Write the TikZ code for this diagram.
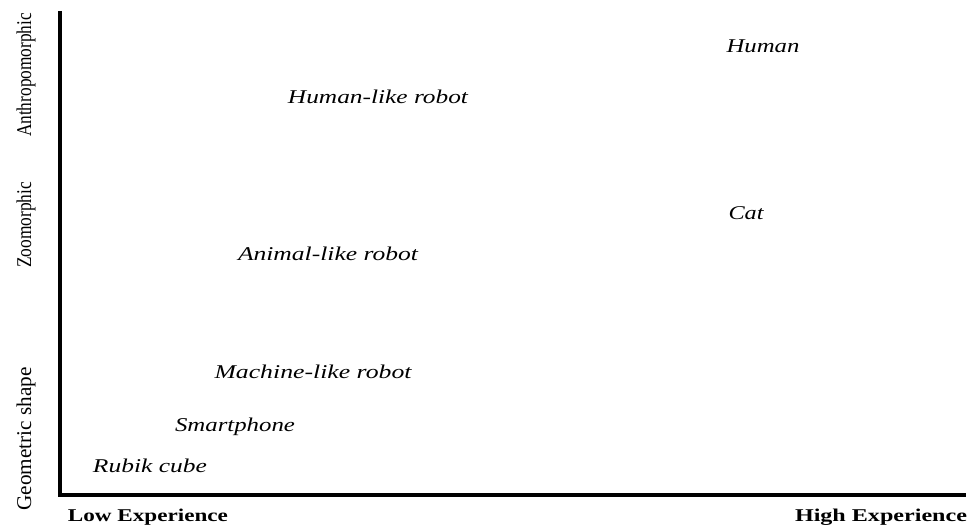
\documentclass[tikz,border=0pt]{standalone}
\usepackage{fontspec}
\setmainfont{Liberation Serif}
\usepackage{graphicx}
\tikzset{
  item/.style={inner sep=0pt, anchor=center, font=\fontsize{19.5}{19.5}\selectfont\itshape},
  axislabel/.style={inner sep=0pt, anchor=center, font=\fontsize{18}{18}\selectfont\bfseries},
  ylabel/.style={inner sep=0pt, anchor=center, rotate=90, font=\fontsize{21}{21}\selectfont},
  axisline/.style={line width=3.5pt}
}
\newcommand{\fitw}[2]{\resizebox{#1pt}{\height}{#2}}
\begin{document}
\begin{tikzpicture}[x=1pt,y=-1pt]
\useasboundingbox (0,0) rectangle (975,526);
\coordinate (origin) at (60,495);
\coordinate (ytop) at (60,11);
\coordinate (xend) at (966,495);
\draw[axisline] (ytop) -- (origin) -- (xend);
\node[axislabel] (low) at (148,517) {\fitw{160}{Low Experience}};
\node[axislabel] (high) at (881,517) {\fitw{172}{High Experience}};
\node[ylabel] (anthro) at (26,75) {\fitw{124}{Anthropomorphic}};
\node[ylabel] (zoo) at (26,225) {\fitw{86}{Zoomorphic}};
\node[ylabel] (geo) at (26,439) {\fitw{143}{Geometric shape}};
\node[item] (human) at (763,46) {\fitw{73}{Human}};
\node[item] (cat) at (746,213) {\fitw{35}{Cat}};
\node[item] (hrobot) at (378,97) {\fitw{180}{Human-like robot}};
\node[item] (arobot) at (328,254) {\fitw{180}{Animal-like robot}};
\node[item] (mrobot) at (313,372) {\fitw{197}{Machine-like robot}};
\node[item] (phone) at (235,427) {\fitw{120}{Smartphone}};
\node[item] (rubik) at (150,466) {\fitw{114}{Rubik cube}};
\end{tikzpicture}
\end{document}
